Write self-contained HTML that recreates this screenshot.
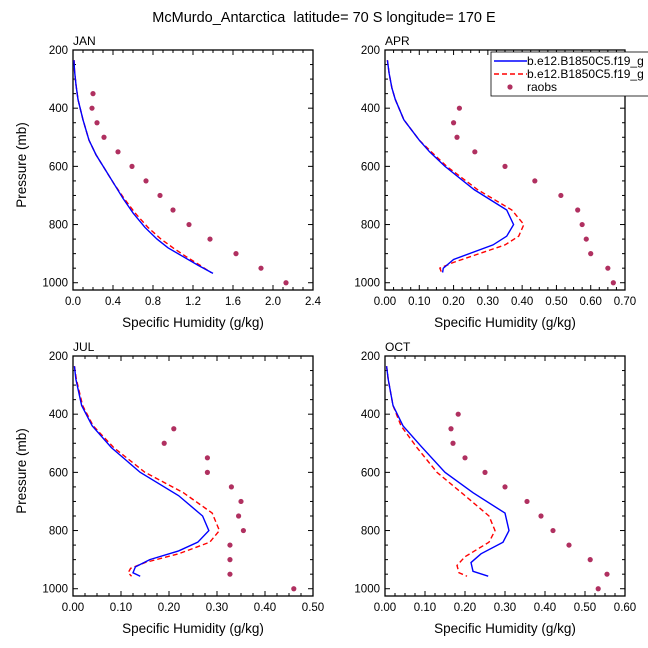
<!DOCTYPE html>
<html><head><meta charset="utf-8"><style>
body{margin:0;background:#fff}
svg{display:block;font-family:"Liberation Sans",sans-serif}
</style></head><body>
<svg id="c" width="648" height="648" xmlns="http://www.w3.org/2000/svg">
<text x="324" y="22" font-size="14.5" text-anchor="middle" style="white-space:pre">McMurdo_Antarctica  latitude= 70 S longitude= 170 E</text>
</svg>
<script>
const months=["JAN","APR","JUL","OCT"];
const xMaxes=[2.4,0.7,0.5,0.6];
const xTickLabels=[["0.0","0.4","0.8","1.2","1.6","2.0","2.4"],["0.00","0.10","0.20","0.30","0.40","0.50","0.60","0.70"],["0.00","0.10","0.20","0.30","0.40","0.50"],["0.00","0.10","0.20","0.30","0.40","0.50","0.60"]];
const yTicks=[200,400,600,800,1000];
const blueQ=[[0.01,0.015,0.03,0.05,0.1,0.16,0.23,0.32,0.41,0.5,0.6,0.72,0.84,0.95,1.1,1.25,1.4],[0.007,0.012,0.02,0.03,0.055,0.1,0.13,0.175,0.26,0.355,0.375,0.355,0.315,0.2,0.17,0.168],[0.003,0.006,0.018,0.04,0.08,0.14,0.22,0.27,0.283,0.26,0.22,0.16,0.13,0.125,0.14],[0.004,0.008,0.02,0.045,0.09,0.15,0.22,0.3,0.31,0.295,0.24,0.215,0.22,0.258]];
const blueP=[[235,270,320,370,440,510,560,610,660,710,760,810,850,880,910,940,968],[235,280,330,370,440,510,550,600,680,750,800,840,870,920,950,965],[235,280,370,440,515,600,680,750,800,840,870,900,925,945,957],[235,280,370,440,510,600,670,740,800,840,880,910,940,957]];
const redQ=[[0.01,0.015,0.03,0.05,0.1,0.16,0.23,0.32,0.41,0.51,0.62,0.75,0.88,1.0,1.13,1.27,1.38],[0.007,0.012,0.02,0.03,0.055,0.1,0.135,0.18,0.27,0.37,0.405,0.39,0.35,0.2,0.16,0.165],[0.003,0.007,0.02,0.042,0.085,0.15,0.23,0.29,0.305,0.285,0.22,0.15,0.12,0.115,0.122],[0.004,0.008,0.02,0.04,0.08,0.13,0.2,0.26,0.275,0.26,0.2,0.18,0.185,0.205]];
const redP=[[235,270,320,370,440,510,560,610,660,710,760,810,850,880,910,940,965],[235,280,330,370,440,510,550,600,680,750,800,840,870,930,950,965],[235,280,370,440,515,600,670,740,800,840,880,910,930,945,957],[235,280,370,440,515,600,680,750,800,840,890,920,945,957]];
const obsP=[[350,400,450,500,550,600,650,700,750,800,850,900,950,1000],[400,450,500,550,600,650,700,750,800,850,900,950,1000],[450,500,550,600,650,700,750,800,850,900,950,1000],[400,450,500,550,600,650,700,750,800,850,900,950,1000]];
const obsQ=[[0.2,0.19,0.24,0.31,0.45,0.59,0.73,0.87,1.0,1.16,1.37,1.63,1.88,2.13],[0.217,0.2,0.21,0.262,0.35,0.437,0.513,0.562,0.575,0.587,0.6,0.65,0.666],[0.21,0.19,0.28,0.28,0.33,0.35,0.345,0.355,0.327,0.327,0.327,0.46],[0.183,0.165,0.17,0.2,0.25,0.3,0.355,0.39,0.42,0.46,0.513,0.555,0.533]];

const svg=document.getElementById('c');
const NS="http://www.w3.org/2000/svg";
function mk(tag,attrs,parent){const e=document.createElementNS(NS,tag);for(const k in attrs)e.setAttribute(k,attrs[k]);(parent||svg).appendChild(e);return e;}
const lefts=[73,385,73,385], tops=[50,50,356,356], W=240, H=240;
const pMin=200,pMax=1025;
months.forEach((m,i)=>{
  const L=lefts[i],T=tops[i],xm=xMaxes[i];
  const g=mk('g',{});
  
  
  const xs=v=>L+v/xm*W, ys=p=>T+(p-pMin)/(pMax-pMin)*H;
  const fr=mk('rect',{x:L,y:T,width:W,height:H,fill:'none',stroke:'#000','stroke-width':1.3},g);
  
  
  for(let p=200;p<=1000;p+=50){const y=ys(p),maj=p%200===0,len=maj?5:3;
    mk('line',{x1:L,x2:L+len,y1:y,y2:y,stroke:'#000'},g);mk('line',{x1:L+W,x2:L+W-len,y1:y,y2:y,stroke:'#000'},g);}
  yTicks.forEach(p=>{const t=mk('text',{x:L-5,y:ys(p)+4,'font-size':11.5,'text-anchor':'end'},g);t.textContent=p;
    
    });
  const lab=xTickLabels[i],n=lab.length-1;
  for(let k=0;k<=n*4;k++){const x=L+k/(n*4)*W,len=k%4===0?5:3;
    mk('line',{x1:x,x2:x,y1:T+H,y2:T+H-len,stroke:'#000'},g);mk('line',{x1:x,x2:x,y1:T,y2:T+len,stroke:'#000'},g);}
  lab.forEach((s,k)=>{const t=mk('text',{x:xs(parseFloat(s)),y:T+H+15,'font-size':11.5,'text-anchor':'middle'},g);t.textContent=s;
    
    });
  const xt=mk('text',{x:L+W/2,y:T+H+37,'font-size':13.5,'text-anchor':'middle'},g);xt.textContent='Specific Humidity (g/kg)';
  
  
  if(L<200){const yt=mk('text',{x:0,y:0,'font-size':13.5,'text-anchor':'middle',transform:`translate(26,${T+H/2-5}) rotate(-90)`},g);yt.textContent='Pressure (mb)';
    
    }
  const pt=mk('text',{x:L,y:T-5,'font-size':12},g);pt.textContent=m;
  
  
  const rl=mk('polyline',{points:redQ[i].map((q,k)=>xs(q)+','+ys(redP[i][k])).join(' '),fill:'none',stroke:'#ff0000','stroke-width':1.4,'stroke-dasharray':'5,3'},g);
  
  
  const bl=mk('polyline',{points:blueQ[i].map((q,k)=>xs(q)+','+ys(blueP[i][k])).join(' '),fill:'none',stroke:'#0000ff','stroke-width':1.4},g);
  
  
  obsQ[i].forEach((q,k)=>{const c=mk('circle',{cx:xs(q),cy:ys(obsP[i][k]),r:2.6,fill:'#b03060'},g);
    
    });
});
const lg=mk('g',{});


mk('rect',{x:491,y:52,width:160,height:44,fill:'#fff',stroke:'#000','stroke-width':0.8},lg);
mk('line',{x1:494,x2:527,y1:61,y2:61,stroke:'#0000ff','stroke-width':1.4},lg);
mk('line',{x1:494,x2:527,y1:74,y2:74,stroke:'#ff0000','stroke-width':1.4,'stroke-dasharray':'5,3'},lg);
mk('circle',{cx:510,cy:87,r:2.6,fill:'#b03060'},lg);
[['b.e12.B1850C5.f19_g',65],['b.e12.B1850C5.f19_g',78],['raobs',91]].forEach(([s,y])=>{const t=mk('text',{x:527,y:y,'font-size':12},lg);t.textContent=s;
  
  });
</script>
</body></html>
